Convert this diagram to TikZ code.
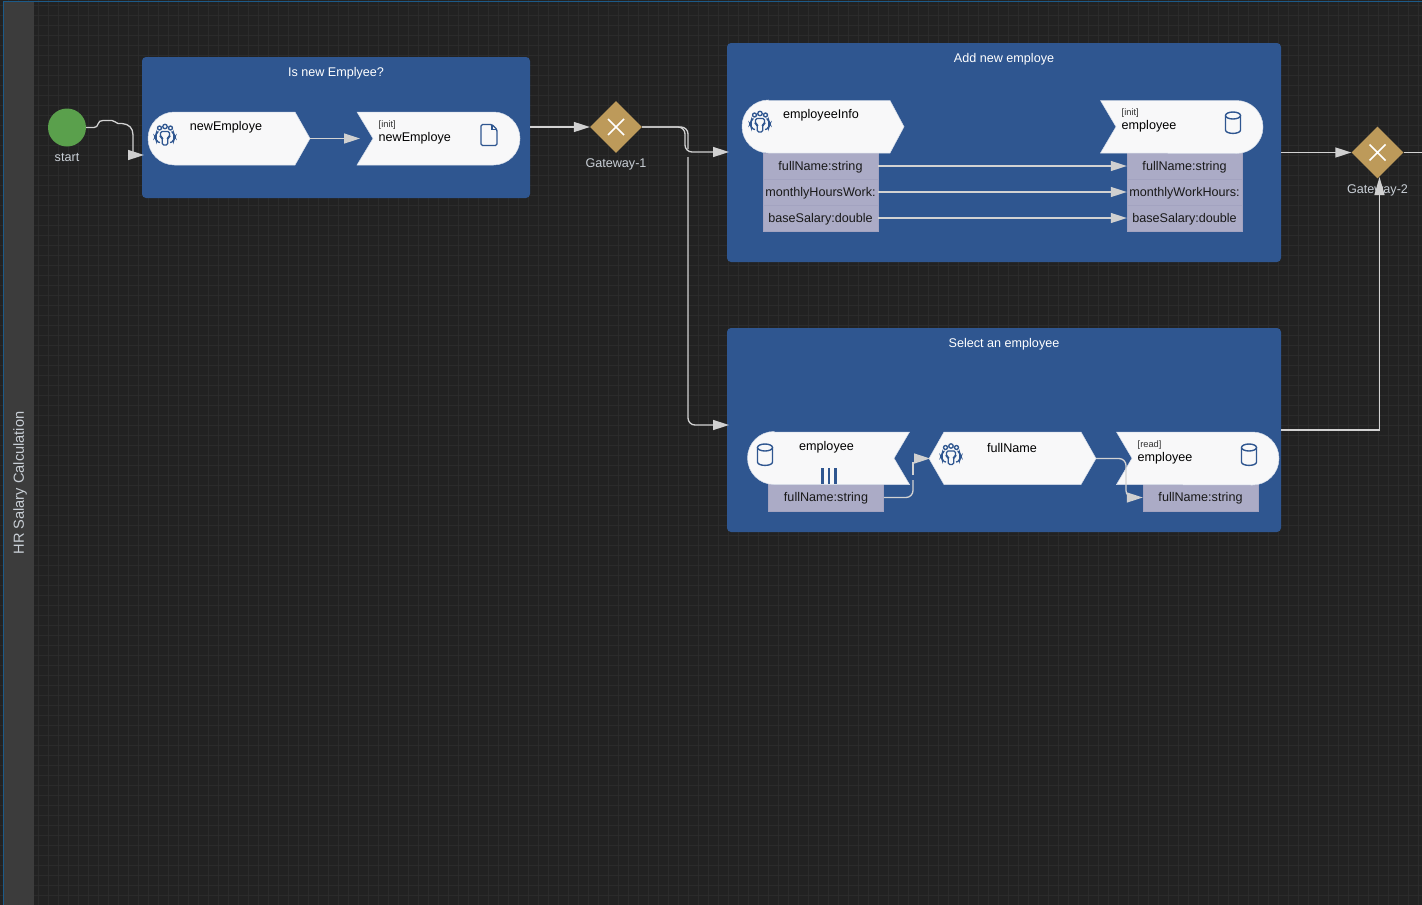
\documentclass[tikz,border=0pt]{standalone}
\usepackage{fontspec}
\setmainfont{Liberation Sans}
\usetikzlibrary{arrows.meta,shapes.geometric,calc}
\definecolor{bgc}{HTML}{222222}
\definecolor{gridc}{HTML}{2B2B2B}
\definecolor{lanec}{HTML}{3C3C3C}
\definecolor{poolc}{HTML}{2F5690}
\definecolor{attrc}{HTML}{ABABC6}
\definecolor{attrl}{HTML}{A3A3C0}
\definecolor{linec}{HTML}{D2D2D2}
\definecolor{tipc}{HTML}{D0D0D0}
\definecolor{gatec}{HTML}{BD9A5A}
\definecolor{startc}{HTML}{5AA04C}
\definecolor{labelc}{HTML}{C9CFD6}
\definecolor{pillc}{HTML}{F8F8F9}
\definecolor{pilledge}{HTML}{D5DCE8}
\definecolor{framec}{HTML}{1C5A88}
\tikzset{
  x=1pt,y=-1pt,
  txt/.style={font=\fontsize{12.6}{14}\selectfont,inner sep=0pt,text=black,yshift=-1pt},
  small/.style={font=\fontsize{9.3}{10}\selectfont,inner sep=0pt,text=black!80,anchor=west,yshift=-1pt},
  pooltitle/.style={font=\fontsize{12.6}{14}\selectfont,inner sep=0pt,text=white,yshift=-1.5pt},
  lbl/.style={font=\fontsize{12.6}{14}\selectfont,inner sep=0pt,text=labelc,yshift=-1pt},
  pool/.style={fill=poolc,rounded corners=4pt,inner sep=0pt,minimum width=#1},
  pill/.style={fill=pillc,draw=pilledge,line width=0.5pt},
  attr/.style={fill=attrc,draw=attrl,line width=0.5pt,inner sep=0pt,minimum width=115pt,minimum height=26pt,
     font=\fontsize{12.6}{14}\selectfont,text=black!90,text height=9pt,text depth=0.7pt},
  gate/.style={diamond,aspect=1,fill=gatec,inner sep=0pt,minimum width=52pt,minimum height=52pt},
  flow/.style={draw=linec,line width=1.3pt,rounded corners=7pt},
  flowtip/.style={draw=none,fill=tipc},
  icon/.style={draw=poolc,line width=1.4pt,fill=none},
  peopleicon/.pic={
    \draw[icon,line width=1.3pt] (-5.5,-7.5) circle[radius=2] (0,-9) circle[radius=2.2] (5.5,-7.5) circle[radius=2];
    \draw[icon,line width=1.3pt,rounded corners=1.5pt] (-4.5,-4) -- (4.5,-4) -- (4.5,1.5) -- (2.8,2) -- (2.8,9.5) -- (-2.8,9.5) -- (-2.8,2) -- (-4.5,1.5) -- cycle;
    \draw[icon,line width=1.3pt,rounded corners=2pt] (-6.5,-4) -- (-8.8,-3) -- (-8.8,0) -- (-10,1.5) -- (-8.8,3) -- (-8.8,6) -- (-5,7);
    \draw[icon,line width=1.3pt,rounded corners=2pt] (6.5,-4) -- (8.8,-3) -- (8.8,0) -- (10,1.5) -- (8.8,3) -- (8.8,6) -- (5,7);
  },
  cylicon/.pic={
    \draw[icon] (-7.5,-7.5) -- (-7.5,7) .. controls (-7.5,11.5) and (7.5,11.5) .. (7.5,7) -- (7.5,-7.5);
    \draw[icon] (0,-7.5) ellipse[x radius=7.5,y radius=3.5];
  },
  docicon/.pic={
    \draw[icon,rounded corners=1.5pt] (-8,-10.5) -- (3,-10.5) -- (8,-5.5) -- (8,10.5) -- (-8,10.5) -- cycle;
    \draw[icon] (3,-10.5) -- (3,-5.5) -- (8,-5.5);
  },
}
\newcommand{\tipR}[1]{\fill[flowtip] ($(#1)+(-16,-5.2)$) -- (#1) -- ($(#1)+(-16,5.2)$) -- cycle;}
\newcommand{\pillL}[6]{%
  \draw[pill] ({#1+26.5},#2) -- (#4,#2) -- (#5,{(#2+#3)/2}) -- (#4,#3) -- ({#1+26.5},#3) arc[start angle=90,end angle=270,radius=26.5] -- cycle;
  \coordinate (#6) at (#5,{(#2+#3)/2});
}
\newcommand{\pillR}[6]{%
  \draw[pill] (#1,#2) -- ({#5-26.5},#2) arc[start angle=-90,end angle=90,radius=26.5] -- (#1,#3) -- (#4,{(#2+#3)/2}) -- cycle;
  \coordinate (#6) at (#4,{(#2+#3)/2});
}
\begin{document}
\begin{tikzpicture}
\useasboundingbox (0,0) rectangle (1422,905);
\fill[bgc] (0,0) rectangle (1422,905);
\foreach \i in {0,...,141} {\draw[gridc,line width=1pt] ({8.5+10*\i},0) -- ({8.5+10*\i},905);}
\foreach \i in {0,...,90} {\draw[gridc,line width=1pt] (0,{5.5+10*\i}) -- (1422,{5.5+10*\i});}
\draw[framec,line width=0.8pt] (3.5,905) -- (3.5,1.5) -- (1422,1.5);
\fill[lanec] (4,2) rectangle (34,905);
\node[lbl,rotate=90,font=\fontsize{14.6}{16}\selectfont,xshift=1pt,yshift=1pt] (lane) at (21,483) {HR Salary Calculation};

\node[pool=388pt,minimum height=141pt] (p1) at (336,127.5) {};
\node[pool=554pt,minimum height=219pt] (p2) at (1004,152.5) {};
\node[pool=554pt,minimum height=204pt] (p3) at (1004,430) {};
\node[pooltitle] (t1) at (336,71.5) {Is new Emplyee?};
\node[pooltitle] (t2) at (1004,57.5) {Add new employe};
\node[pooltitle] (t3) at (1004,342.5) {Select an employee};

\node[circle,fill=startc,minimum size=38pt,inner sep=0pt] (start) at (67,127.5) {};
\node[lbl] (startl) at (67,156.5) {start};

\node[gate] (g1) at (616,127) {};
\draw[white,line width=1.7pt] (608,119) -- (624,135) (608,135) -- (624,119);
\node[lbl] (g1l) at (616,163.5) {Gateway-1};
\node[gate] (g2) at (1377.5,152.5) {};
\draw[white,line width=1.7pt] (1369.5,144.5) -- (1385.5,160.5) (1369.5,160.5) -- (1385.5,144.5);
\node[lbl] (g2l) at (1377.5,189.5) {Gateway-2};

\pillL{148}{112}{165}{295}{310}{ne1}
\pic at (165,135.5) {peopleicon};
\node[txt] (ne1t) at (226,126.5) {newEmploye};
\pillR{357}{112}{165}{373}{520}{ne2}
\node[small] (ne2s) at (378.5,124) {[init]};
\node[txt,anchor=west] (ne2t) at (378.5,137) {newEmploye};
\pic at (489,135) {docicon};

\node[attr] (a1) at (820.5,166) {fullName:string};
\node[attr] (a2) at (820.5,192) {monthlyHoursWork:};
\node[attr] (a3) at (820.5,218) {baseSalary:double};
\node[attr] (b1) at (1184.5,166) {fullName:string};
\node[attr] (b2) at (1184.5,192) {monthlyWorkHours:};
\node[attr] (b3) at (1184.5,218) {baseSalary:double};
\pillL{742}{100.5}{153}{890}{904}{ei}
\pic at (760,122.5) {peopleicon};
\node[txt] (eit) at (821,114.5) {employeeInfo};
\pillR{1100.5}{100.5}{153}{1116}{1263}{ee}
\node[small] (ees) at (1121.5,112) {[init]};
\node[txt,anchor=west] (eet) at (1121.5,125) {employee};
\pic at (1233,123) {cylicon};

\node[attr,minimum height=26.5pt] (c1) at (826,497.5) {fullName:string};
\node[attr,minimum height=26.5pt] (d1) at (1200.5,497.5) {fullName:string};
\pillL{747.5}{432}{484.5}{909.5}{894}{dummyA}
\pic at (765,455) {cylicon};
\node[txt] (emt) at (826.5,446.5) {employee};
\draw[poolc,line width=2.4pt] (822.5,468) -- (822.5,484) (829,468) -- (829,484) (835.5,468) -- (835.5,484);
\draw[pill] (929,458.5) -- (944,432) -- (1081,432) -- (1096,458.5) -- (1081,484.5) -- (944,484.5) -- cycle;
\coordinate (fnL) at (929,458.5);
\coordinate (fnR) at (1096,458.5);
\pic at (951,455) {peopleicon};
\node[txt] (fnt) at (1012,446.5) {fullName};
\pillR{1116.5}{432}{484.5}{1132}{1279}{er}
\node[small] (ers) at (1137.5,444) {[read]};
\node[txt,anchor=west] (ert) at (1137.5,457) {employee};
\pic at (1249,455) {cylicon};

\draw[draw=linec,line width=1.3pt] (start.east) -- (94,127.5) .. controls (97,127.5) and (97,126) .. (98,124) .. controls (99,121.5) and (100,120.5) .. (103,120.5) -- (112,120.5) .. controls (115,120.5) and (115,123) .. (118,123.5) -- (122,123.5) .. controls (129,124) and (133,128) .. (133,135) -- (133,152);
\coordinate (p1in) at (144,155); \tipR{p1in}
\draw[flow] (ne1) -- (345,138.5);
\coordinate (ne2in) at (360,138.5); \tipR{ne2in}
\draw[flow] (p1.east |- g1) -- (575,127);
\tipR{g1.west}
\coordinate (p2in) at (729,152); \coordinate (p3in) at (729,425);
\draw[flow] (g1.east) -- (685,127) -- (685,152) -- (715,152);
\tipR{p2in}
\draw[flow] (g1.east) -- (688,127) -- (688,149);
\draw[flow] (688,157) -- (688,425) -- (715,425);
\tipR{p3in}
\draw[flow] (a1.east) -- (1112,166); \coordinate (b1w) at (b1.west); \tipR{b1w}
\draw[flow] (a2.east) -- (1112,192); \coordinate (b2w) at (b2.west); \tipR{b2w}
\draw[flow] (a3.east) -- (1112,218); \coordinate (b3w) at (b3.west); \tipR{b3w}
\draw[flow] (p2.east |- g2) -- (1337,152.5);
\tipR{g2.west}
\draw[flow] (g2.east) -- (1422,152.5);
\draw[flow,sharp corners] (p3.east) -- (1379.5,430) -- (1379.5,192);
\fill[flowtip] (1374.3,195) -- (1379.5,177) -- (1384.7,195) -- cycle;
\draw[flow] (c1.east) -- (913,497.5) -- (913,480);
\draw[flow] (913,475) -- (913,462);
\coordinate (fnin) at (930,458.5); \tipR{fnin}
\draw[flow] (fnR) -- (1126,458.5) -- (1126,497.5) -- (1130,497.5);
\coordinate (d1w) at (d1.west); \tipR{d1w}
\end{tikzpicture}
\end{document}
